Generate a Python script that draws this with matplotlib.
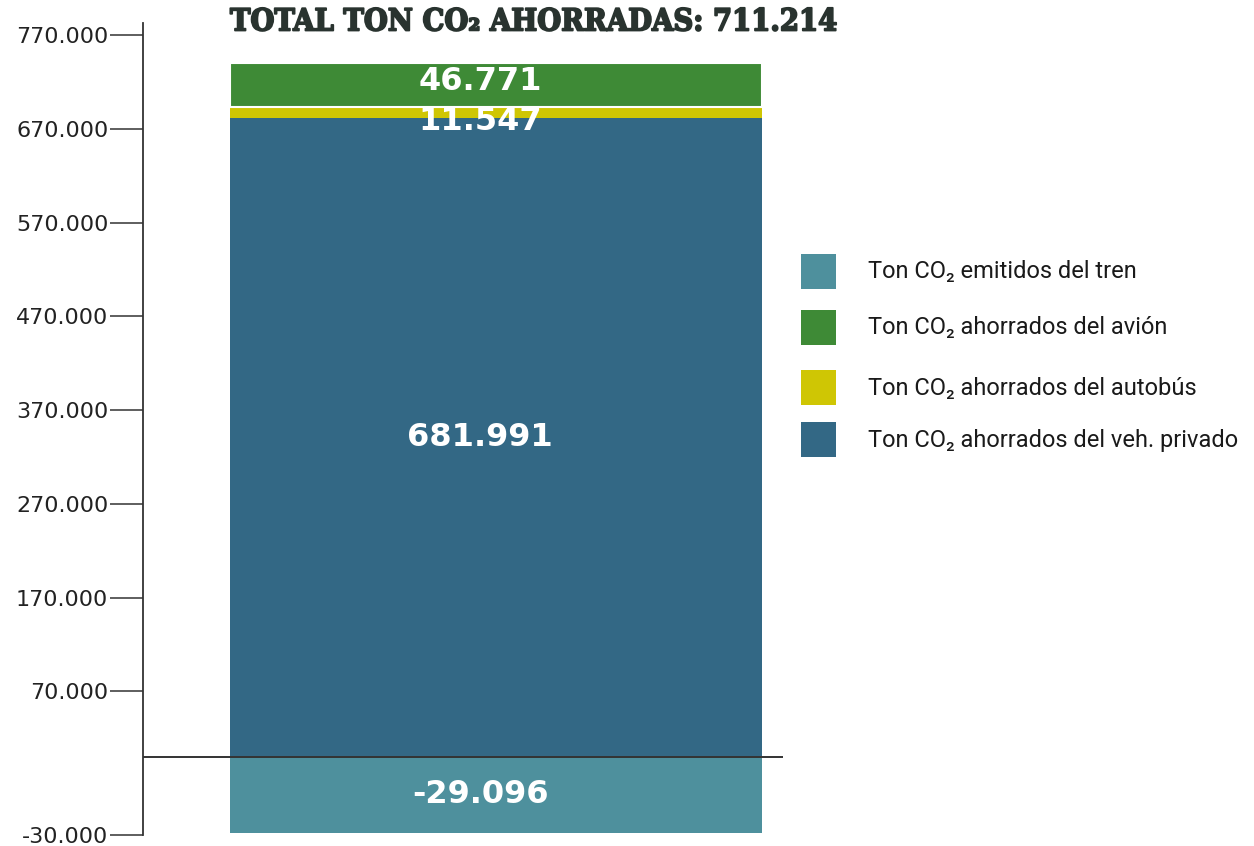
import numpy as np
import matplotlib
matplotlib.use("Agg")
import matplotlib.pyplot as plt
import matplotlib.patheffects as pe
from matplotlib.patches import Rectangle

# Data (tonnes of CO2)
series_labels = [
    "Ton CO₂ emitidos del tren",
    "Ton CO₂ ahorrados del avión",
    "Ton CO₂ ahorrados del autobús",
    "Ton CO₂ ahorrados del veh. privado",
]
tren = -29096
avion = 46771
autobus = 11547
privado = 681991
total_ahorrado = 711214

tick_values = [-30000, 70000, 170000, 270000, 370000, 470000, 570000, 670000, 770000]

colors = {
    "tren": "#4e909d",
    "avion": "#3e8a36",
    "autobus": "#cfc604",
    "privado": "#336885",
}

def fmt(v):
    return f"{v:,.0f}".replace(",", ".")

# Negative part of the axis is stretched so the small train value stays readable
K = 2.773
def fwd(y):
    y = np.asarray(y, dtype=float)
    return np.where(y < 0, y * K, y)

def inv(y):
    y = np.asarray(y, dtype=float)
    return np.where(y < 0, y / K, y)

W, H = 1254, 846
fig = plt.figure(figsize=(W / 100, H / 100), dpi=100)
ax = fig.add_axes([143 / W, (H - 835) / H, (783 - 143) / W, (835 - 23) / H])
ax.set_yscale("function", functions=(fwd, inv))
ax.set_ylim(-30000, 782800)
ax.set_xlim(0, 640)

x = 353
width = 532
ax.bar([x], [privado], width=width, bottom=0, color=colors["privado"], linewidth=0, zorder=2)
ax.bar([x], [autobus], width=width, bottom=privado, color=colors["autobus"], linewidth=0, zorder=2)
ax.bar([x], [avion], width=width, bottom=privado + autobus, color=colors["avion"],
       edgecolor="white", linewidth=1.5, zorder=2)
ax.bar([x], [tren], width=width, bottom=0, color=colors["tren"], linewidth=0, zorder=2)

ax.axhline(0, color="#333333", linewidth=1.4, zorder=3)

val_font = dict(color="white", fontsize=23, fontweight="bold",
                family=["DejaVu Sans"], ha="center", va="center", zorder=4,
                textcoords="offset points")

def seg_mid(lo, hi):
    return float(inv((fwd(lo) + fwd(hi)) / 2))

label_x = 337
ax.annotate(fmt(privado), (label_x, seg_mid(0, privado)), xytext=(0, 0), **val_font)
ax.annotate(fmt(autobus), (label_x, seg_mid(privado, privado + autobus)), xytext=(0, -7), **val_font)
ax.annotate(fmt(avion), (label_x, seg_mid(privado + autobus, privado + autobus + avion)),
            xytext=(0, 2), **val_font)
ax.annotate(fmt(tren), (label_x, seg_mid(tren, 0)), xytext=(0, 0), **val_font)

# Axis styling
for s in ["top", "right", "bottom"]:
    ax.spines[s].set_visible(False)
ax.spines["left"].set_color("#333333")
ax.spines["left"].set_linewidth(1.3)
ax.set_xticks([])
ax.set_yticks(tick_values)
ax.set_yticklabels([fmt(v) for v in tick_values])
ax.tick_params(axis="y", direction="out", length=24, width=1.1, color="#333333",
               pad=1, labelsize=16, labelcolor="#222222")
ax.set_yticks([], minor=True)

title_color = "#29332f"
fig.text(230 / W, 1 - 22 / H, f"TOTAL TON CO₂ AHORRADAS: {fmt(total_ahorrado)}",
         ha="left", va="center", fontsize=22, fontweight="bold", fontstretch="condensed",
         family=["DejaVu Serif", "DejaVu Sans"], color=title_color,
         path_effects=[pe.withStroke(linewidth=1.3, foreground=title_color)])

# Legend drawn as squares and labels in figure pixels
legend_keys = ["tren", "avion", "autobus", "privado"]
row_tops = [254, 310, 370, 422]
for key, label, top in zip(legend_keys, series_labels, row_tops):
    fig.add_artist(Rectangle((801 / W, 1 - (top + 35) / H), 35 / W, 35 / H,
                             transform=fig.transFigure, facecolor=colors[key],
                             edgecolor="none"))
    fig.text(868 / W, 1 - (top + 18) / H, label, ha="left", va="center",
             fontsize=17, fontweight="normal", family=["Roboto", "DejaVu Sans"],
             color="#1a1a1a")

fig.savefig("out.png", dpi=100)
